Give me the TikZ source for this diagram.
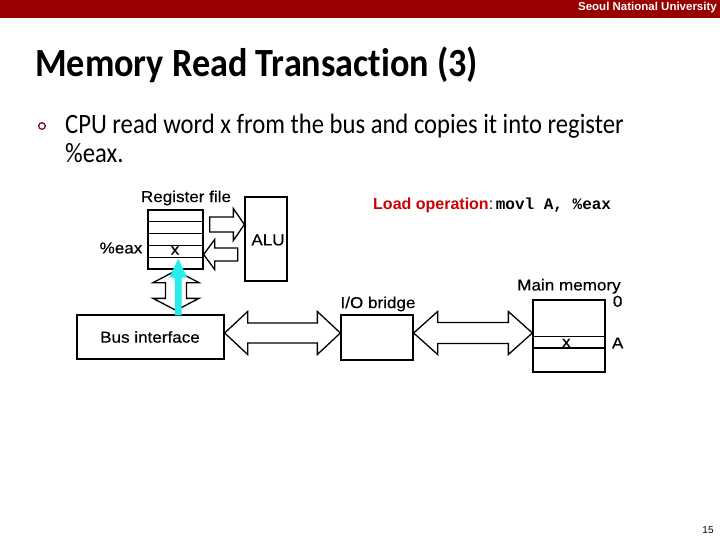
\documentclass[tikz,border=0pt]{standalone}
\usepackage{fontspec}
\setmainfont{Liberation Sans}
\newfontfamily\titlefont[FakeStretch=0.905, Ligatures=NoCommon]{Carlito}
\newfontfamily\bodyfont[FakeStretch=0.88, Ligatures=NoCommon]{Carlito}
\newfontfamily\diagfont[FakeStretch=1.08, FakeBold=0.4]{Liberation Sans}
\newfontfamily\codefont{Liberation Mono}
\usetikzlibrary{calc}
\definecolor{snured}{RGB}{153,0,0}
\definecolor{opred}{RGB}{204,0,0}
\definecolor{arrowcyan}{RGB}{40,235,235}
\definecolor{bulletred}{RGB}{120,20,35}
\tikzset{
  box/.style={draw, line width=1.3pt, fill=white, inner sep=0pt},
  blockarrow/.style={draw, line width=1.3pt, fill=white, line join=miter},
  lbl/.style={font=\diagfont\fontsize{15.8}{17}\selectfont, inner sep=0pt},
}
% horizontal double arrow: left tip, right tip, head length, half head, half body
\newcommand\hdblarrow[5]{%
  \draw[blockarrow] let \p1=(#1), \p2=(#2) in
   (\x1,\y1) -- (\x1+#3pt,\y1+#4pt) -- (\x1+#3pt,\y1+#5pt) -- (\x2-#3pt,\y2+#5pt)
   -- (\x2-#3pt,\y2+#4pt) -- (\x2,\y2) -- (\x2-#3pt,\y2-#4pt) -- (\x2-#3pt,\y2-#5pt)
   -- (\x1+#3pt,\y1-#5pt) -- (\x1+#3pt,\y1-#4pt) -- cycle;}
% vertical double arrow: top tip, bottom tip, head length, half head, half body
\newcommand\vdblarrow[5]{%
  \draw[blockarrow] let \p1=(#1), \p2=(#2) in
   (\x1,\y1) -- (\x1+#4pt,\y1-#3pt) -- (\x1+#5pt,\y1-#3pt) -- (\x2+#5pt,\y2+#3pt)
   -- (\x2+#4pt,\y2+#3pt) -- (\x2,\y2) -- (\x2-#4pt,\y2+#3pt) -- (\x2-#5pt,\y2+#3pt)
   -- (\x1-#5pt,\y1-#3pt) -- (\x1-#4pt,\y1-#3pt) -- cycle;}
% rightward arrow: tail, tip
\newcommand\rblockarrow[5]{%
  \draw[blockarrow] let \p1=(#1), \p2=(#2) in
   (\x1,\y1+#5pt) -- (\x2-#3pt,\y1+#5pt) -- (\x2-#3pt,\y1+#4pt) -- (\x2,\y2)
   -- (\x2-#3pt,\y1-#4pt) -- (\x2-#3pt,\y1-#5pt) -- (\x1,\y1-#5pt) -- cycle;}
% leftward arrow: tip, tail
\newcommand\lblockarrow[5]{%
  \draw[blockarrow] let \p1=(#1), \p2=(#2) in
   (\x1,\y1) -- (\x1+#3pt,\y1+#4pt) -- (\x1+#3pt,\y1+#5pt) -- (\x2,\y1+#5pt)
   -- (\x2,\y1-#5pt) -- (\x1+#3pt,\y1-#5pt) -- (\x1+#3pt,\y1-#4pt) -- cycle;}
% upward filled arrow: tail (bottom), tip (top)
\newcommand\ublockarrow[6]{%
  \fill[#6] let \p1=(#1), \p2=(#2) in
   (\x1-#5pt,\y1) -- (\x1-#5pt,\y2-#3pt) -- (\x1-#4pt,\y2-#3pt) -- (\x2,\y2)
   -- (\x1+#4pt,\y2-#3pt) -- (\x1+#5pt,\y2-#3pt) -- (\x1+#5pt,\y1) -- cycle;}

\begin{document}
\begin{tikzpicture}[x=1pt,y=-1pt]
\useasboundingbox (0,0) rectangle (720,540);
\fill[white] (0,0) rectangle (720,540);

% header
\fill[snured] (0,0) rectangle (720,18);
\node[anchor=base east, inner sep=0pt, text=white, font=\bfseries\fontsize{11.5}{13}\selectfont] (univ) at (717,11) {Seoul National University};

% title
\node[anchor=base west, inner sep=0pt, font=\titlefont\bfseries\fontsize{40}{44}\selectfont] (title) at (35,77) {Memory Read Transaction (3)};

% bullet
\draw[bulletred, line width=1.3pt] (42,126) circle (3.3);
\node[anchor=base west, inner sep=0pt, font=\bodyfont\fontsize{28}{30}\selectfont] (b1) at (65,134) {CPU read word x from the bus and copies it into register};
\node[anchor=base west, inner sep=0pt, font=\bodyfont\fontsize{28}{30}\selectfont] (b2) at (65,163) {\%eax.};

% load operation
\node[anchor=west, inner sep=0pt, font=\fontsize{16}{18}\selectfont] (loadop) at (373,205)
  {\textcolor{opred}{\bfseries Load operation}:\,{\codefont\bfseries movl A, \%eax}};

% boxes
\node[box, minimum width=55pt, minimum height=59pt] (regfile) at (175.5,239.5) {};
\foreach \i in {1,...,4}
  \draw[line width=1pt] ($(regfile.north west)!\i/5!(regfile.south west)$) -- ($(regfile.north east)!\i/5!(regfile.south east)$);
\node[box, minimum width=42pt, minimum height=84pt] (alu) at (266,239) {};
\node[box, minimum width=147pt, minimum height=44pt] (bus) at (150.5,337) {};
\node[box, minimum width=72pt, minimum height=45pt] (bridge) at (377,337.5) {};
\node[box, minimum width=72pt, minimum height=72pt] (mem) at (569,336) {};
\draw[line width=1.3pt] ($(mem.north west)+(0,37)$) -- ($(mem.north east)+(0,37)$);
\draw[line width=1.3pt] ($(mem.north west)+(0,48.5)$) -- ($(mem.north east)+(0,48.5)$);

% labels
\node[lbl] (lregfile) at (186,198) {Register file};
\node[lbl] (leax) at (121,248) {\%eax};
\node[lbl] (lx) at (175,250.5) {x};
\node[lbl] (lalu) at (268,240) {ALU};
\node[lbl] (lbus) at (150,337) {Bus interface};
\node[lbl] (lbridge) at (378,304) {I/O bridge};
\node[lbl] (lmem) at ($(mem.north)+(0,-13)$) {Main memory};
\node[lbl] (lzero) at ($(mem.north east)+(12,2)$) {0};
\node[lbl] (lA) at ($(mem.east)+(12,7)$) {A};
\node[lbl] (lmx) at ($(mem.west)+(34,7)$) {x};

% arrow end points
\coordinate (a1s) at ($(regfile.east)+(6,-15)$);
\coordinate (a1e) at (alu.west |- a1s);
\coordinate (a2e) at ($(regfile.east)+(0,15)$);
\coordinate (a2s) at ($(regfile.east)+(34,15)$);
\coordinate (a3t) at ($(regfile.south)+(0.5,1)$);
\coordinate (a3b) at ($(bus.north)+(25.5,-4)$);
\coordinate (a4l) at ($(bus.east)+(0,-4)$);
\coordinate (a4r) at ($(bridge.west)+(0,-4.5)$);
\coordinate (a5l) at ($(bridge.east)+(0,-4.5)$);
\coordinate (a5r) at ($(mem.west)+(0,-3)$);
\coordinate (cyb) at ($(bus.north)+(27.8,1)$);
\coordinate (cyt) at ($(regfile.south)+(2.8,-11)$);

% block arrows
\rblockarrow{a1s}{a1e}{11}{16}{7.5}
\lblockarrow{a2e}{a2s}{11}{15}{6.5}
\vdblarrow{a3t}{a3b}{12}{23}{10.5}
\hdblarrow{a4l}{a4r}{23}{21.5}{10}
\hdblarrow{a5l}{a5r}{24}{21.5}{10.5}
\ublockarrow{cyb}{cyt}{19}{9}{3.4}{arrowcyan}

% page number
\node[inner sep=0pt, font=\fontsize{10}{11}\selectfont] (pnum) at (708,530) {15};
\end{tikzpicture}
\end{document}
